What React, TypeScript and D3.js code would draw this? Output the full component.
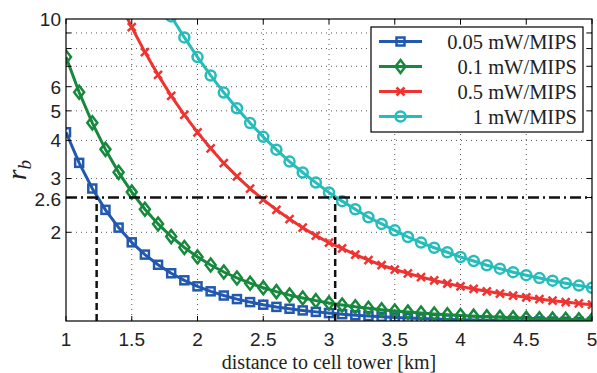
import React from "react";
import * as d3 from "d3";

const distances = [1.0,1.1,1.2,1.3,1.4,1.5,1.6,1.7,1.8,1.9,2.0,2.1,2.2,2.3,2.4,2.5,2.6,2.7,2.8,2.9,3.0,3.1,3.2,3.3,3.4,3.5,3.6,3.7,3.8,3.9,4.0,4.1,4.2,4.3,4.4,4.5,4.6,4.7,4.8,4.9,5.0];

const rb005 = [4.255,3.377,2.783,2.369,2.072,1.854,1.690,1.565,1.468,1.392,1.330,1.281,1.241,1.208,1.181,1.158,1.139,1.123,1.109,1.097,1.087,1.078,1.070,1.063,1.057,1.052,1.048,1.043,1.040,1.036,1.034,1.031,1.029,1.026,1.025,1.023,1.021,1.020,1.018,1.017,1.016];

const rb01 = [7.51,5.753,4.567,3.739,3.144,2.708,2.380,2.130,1.936,1.783,1.661,1.562,1.482,1.417,1.362,1.316,1.278,1.245,1.218,1.194,1.173,1.156,1.140,1.127,1.115,1.104,1.095,1.087,1.079,1.073,1.067,1.062,1.057,1.053,1.049,1.046,1.042,1.039,1.037,1.034,1.032];

const rb05 = [33.0,24.36,18.53,14.46,11.54,9.40,7.79,6.56,5.60,4.85,4.25,3.77,3.37,3.05,2.78,2.56,2.37,2.21,2.07,1.95,1.85,1.77,1.69,1.62,1.56,1.51,1.467,1.427,1.391,1.359,1.330,1.304,1.281,1.260,1.241,1.224,1.208,1.194,1.181,1.169,1.158];

const rb1 = [65.0,47.73,36.07,27.92,22.08,17.79,14.57,12.11,10.20,8.70,7.50,6.53,5.74,5.10,4.56,4.11,3.73,3.41,3.14,2.91,2.70,2.53,2.38,2.24,2.13,2.03,1.93,1.85,1.78,1.72,1.66,1.61,1.56,1.52,1.48,1.447,1.416,1.388,1.362,1.338,1.316];

const seriesLabels = ["0.05 mW/MIPS", "0.1 mW/MIPS", "0.5 mW/MIPS", "1 mW/MIPS"];
const seriesColors = ["#2258ae", "#16893c", "#ef3330", "#26bcbc"];
const seriesMarkers = ["square", "diamond", "x", "circle"];

const xTicks = [1, 1.5, 2, 2.5, 3, 3.5, 4, 4.5, 5];
const xTickLabels = ["1", "1.5", "2", "2.5", "3", "3.5", "4", "4.5", "5"];
const yTicks = [2, 2.6, 3, 4, 5, 6, 10];
const yTickLabels = ["2", "2.6", "3", "4", "5", "6", "10"];
const yMinorTicks = [2, 3, 4, 5, 6, 7, 8, 9];

const threshold = 2.6;
const crossings = [1.233, 3.047];

const W = 597, H = 373;
const L = 66, R = 592, T = 19, B = 321;

function Marker({ type, cx, cy, color }: { type: string; cx: number; cy: number; color: string }) {
  if (type === "square") {
    const s = 8;
    return <rect x={cx - s / 2} y={cy - s / 2} width={s} height={s} fill="none" stroke={color} strokeWidth={2.5} />;
  }
  if (type === "diamond") {
    const h = 6.5, w = 5;
    return <path d={`M${cx},${cy - h}L${cx + w},${cy}L${cx},${cy + h}L${cx - w},${cy}Z`} fill="none" stroke={color} strokeWidth={2.5} />;
  }
  if (type === "x") {
    const s = 4;
    return <path d={`M${cx - s},${cy - s}L${cx + s},${cy + s}M${cx - s},${cy + s}L${cx + s},${cy - s}`} stroke={color} strokeWidth={2.5} />;
  }
  return <circle cx={cx} cy={cy} r={5} fill="none" stroke={color} strokeWidth={2.5} />;
}

export default function App() {
  const x = d3.scaleLinear().domain([1, 5]).range([L, R]);
  const y = d3.scaleLog().domain([1.024, 10]).range([B, T]);
  const allSeries = [rb005, rb01, rb05, rb1];
  const line = d3.line<number>().x((_, i) => x(distances[i])).y((d) => y(d));
  const legendY = [41.5, 66.5, 91.5, 116.5];
  const yNudge: Record<string, number> = { "3": -1, "2.6": 1 };

  return (
    <svg width={W} height={H} style={{ position: "absolute", left: 0, top: 0, background: "#fff" }}>
      <defs>
        <clipPath id="plotclip">
          <rect x={L} y={T} width={R - L} height={B - T} />
        </clipPath>
      </defs>
      <rect x={0} y={0} width={W} height={H} fill="#fff" />
      <g stroke="#555" strokeWidth={1} strokeDasharray="1,4">
        {xTicks.slice(1, -1).map((t) => (
          <line key={"gx" + t} x1={x(t)} x2={x(t)} y1={T} y2={B} />
        ))}
        {yMinorTicks.map((t) => (
          <line key={"gy" + t} x1={L} x2={R} y1={y(t)} y2={y(t)} />
        ))}
      </g>
      <g clipPath="url(#plotclip)">
        {allSeries.map((vals, si) => (
          <g key={"s" + si}>
            <path d={line(vals) || ""} fill="none" stroke={seriesColors[si]} strokeWidth={3} />
            {vals.map((v, i) => (
              <Marker key={i} type={seriesMarkers[si]} cx={x(distances[i])} cy={y(v)} color={seriesColors[si]} />
            ))}
          </g>
        ))}
        <line x1={x(1)} x2={x(5)} y1={y(threshold)} y2={y(threshold)} stroke="#111" strokeWidth={2.5} strokeDasharray="11,4,2,4" />
        {crossings.map((c) => (
          <line key={"v" + c} x1={x(c)} x2={x(c)} y1={B} y2={y(threshold)} stroke="#111" strokeWidth={2.5} strokeDasharray="7,4" />
        ))}
      </g>
      <rect x={L} y={T} width={R - L} height={B - T} fill="none" stroke="#000" strokeWidth={1.2} />
      <g stroke="#000" strokeWidth={1}>
        {xTicks.map((t) => (
          <g key={"tx" + t}>
            <line x1={x(t)} x2={x(t)} y1={B} y2={B - 5} />
            <line x1={x(t)} x2={x(t)} y1={T} y2={T + 5} />
          </g>
        ))}
        {[...yMinorTicks, 2.6].map((t) => (
          <g key={"ty" + t}>
            <line x1={L} x2={L + 5} y1={y(t)} y2={y(t)} />
            <line x1={R} x2={R - 5} y1={y(t)} y2={y(t)} />
          </g>
        ))}
      </g>
      <g fontFamily="'Liberation Sans', Arial, sans-serif" fontSize={19} fill="#222">
        {xTicks.map((t, i) => (
          <text key={"lx" + t} x={x(t)} y={346} textAnchor="middle">{xTickLabels[i]}</text>
        ))}
        {yTicks.map((t, i) => (
          <text key={"ly" + t} x={61} y={y(t) + 7 + (yNudge[yTickLabels[i]] || 0)} textAnchor="end">{yTickLabels[i]}</text>
        ))}
      </g>
      <text x={(L + R) / 2} y={368.5} textAnchor="middle" fontFamily="'Liberation Serif', 'Times New Roman', serif" fontSize={20} fill="#222">
        distance to cell tower [km]
      </text>
      <text transform={`translate(26,${(T + B) / 2}) rotate(-90)`} textAnchor="middle" fontFamily="'Liberation Serif', 'Times New Roman', serif" fontStyle="italic" fontSize={27} fill="#222">
        r<tspan fontSize={19} dy={5}>b</tspan>
      </text>
      <rect x={371} y={27} width={212} height={105} fill="#fff" stroke="#000" strokeWidth={1.2} />
      {seriesLabels.map((lab, i) => (
        <g key={"lg" + i}>
          <line x1={379} x2={422} y1={legendY[i]} y2={legendY[i]} stroke={seriesColors[i]} strokeWidth={3} />
          <Marker type={seriesMarkers[i]} cx={400.5} cy={legendY[i]} color={seriesColors[i]} />
          <text x={577} y={legendY[i] + 7} textAnchor="end" fontFamily="'Liberation Serif', 'Times New Roman', serif" fontSize={20.5} fill="#222">{lab}</text>
        </g>
      ))}
    </svg>
  );
}
